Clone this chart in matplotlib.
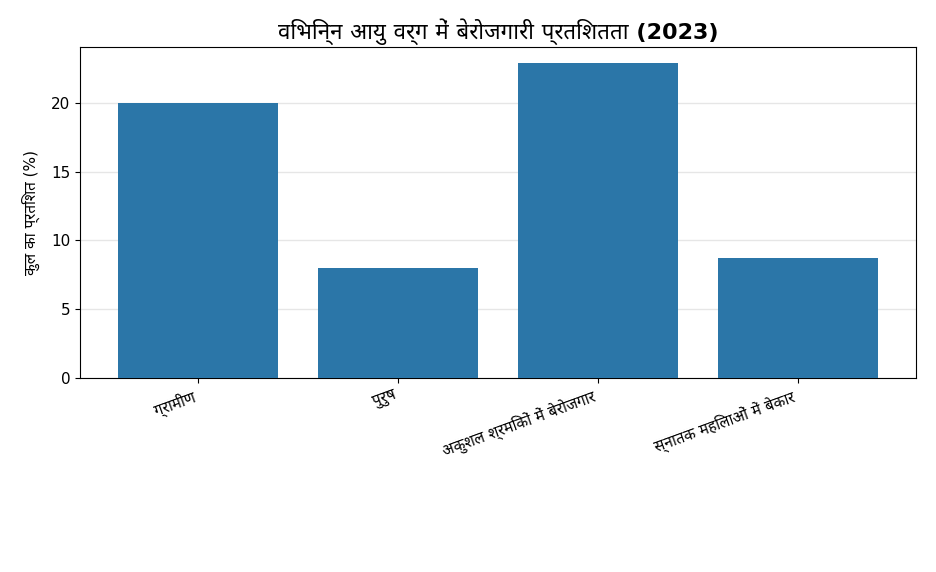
import matplotlib.pyplot as plt

plt.rcParams['font.family'] = ['DejaVu Sans', 'Noto Sans Devanagari', 'Lohit Devanagari',
                               'Noto Sans', 'Liberation Sans', 'Noto Sans CJK SC']

# Data (Hindi labels)
categories = [
    'ग्रामीण',
    'पुरुष',
    'अकुशल श्रमिकों में बेरोजगार',
    'स्नातक महिलाओं में बेकार',
]
values = [20.0, 8.0, 22.9, 8.7]
title = 'विभिन्न आयु वर्ग में बेरोजगारी प्रतिशतता (2023)'
ylabel = 'कुल का प्रतिशत (%)'

fig, ax = plt.subplots(figsize=(9.36, 5.72), dpi=100)
fig.subplots_adjust(left=0.0855, right=0.9786, top=0.9178, bottom=0.3392)

ax.bar(range(len(categories)), values, width=0.8, color='#2b76a8', zorder=3)
ax.set_xticks(range(len(categories)))
ax.set_xticklabels(categories, rotation=20, ha='right', fontsize=11)
ax.tick_params(axis='y', labelsize=11)
ax.set_ylabel(ylabel, fontsize=11, labelpad=8)
ax.set_title(title, fontsize=16, fontweight='bold')
ax.grid(axis='y', color='#e6e6e6', linewidth=1, zorder=0)

plt.savefig('out.png', dpi=100)
